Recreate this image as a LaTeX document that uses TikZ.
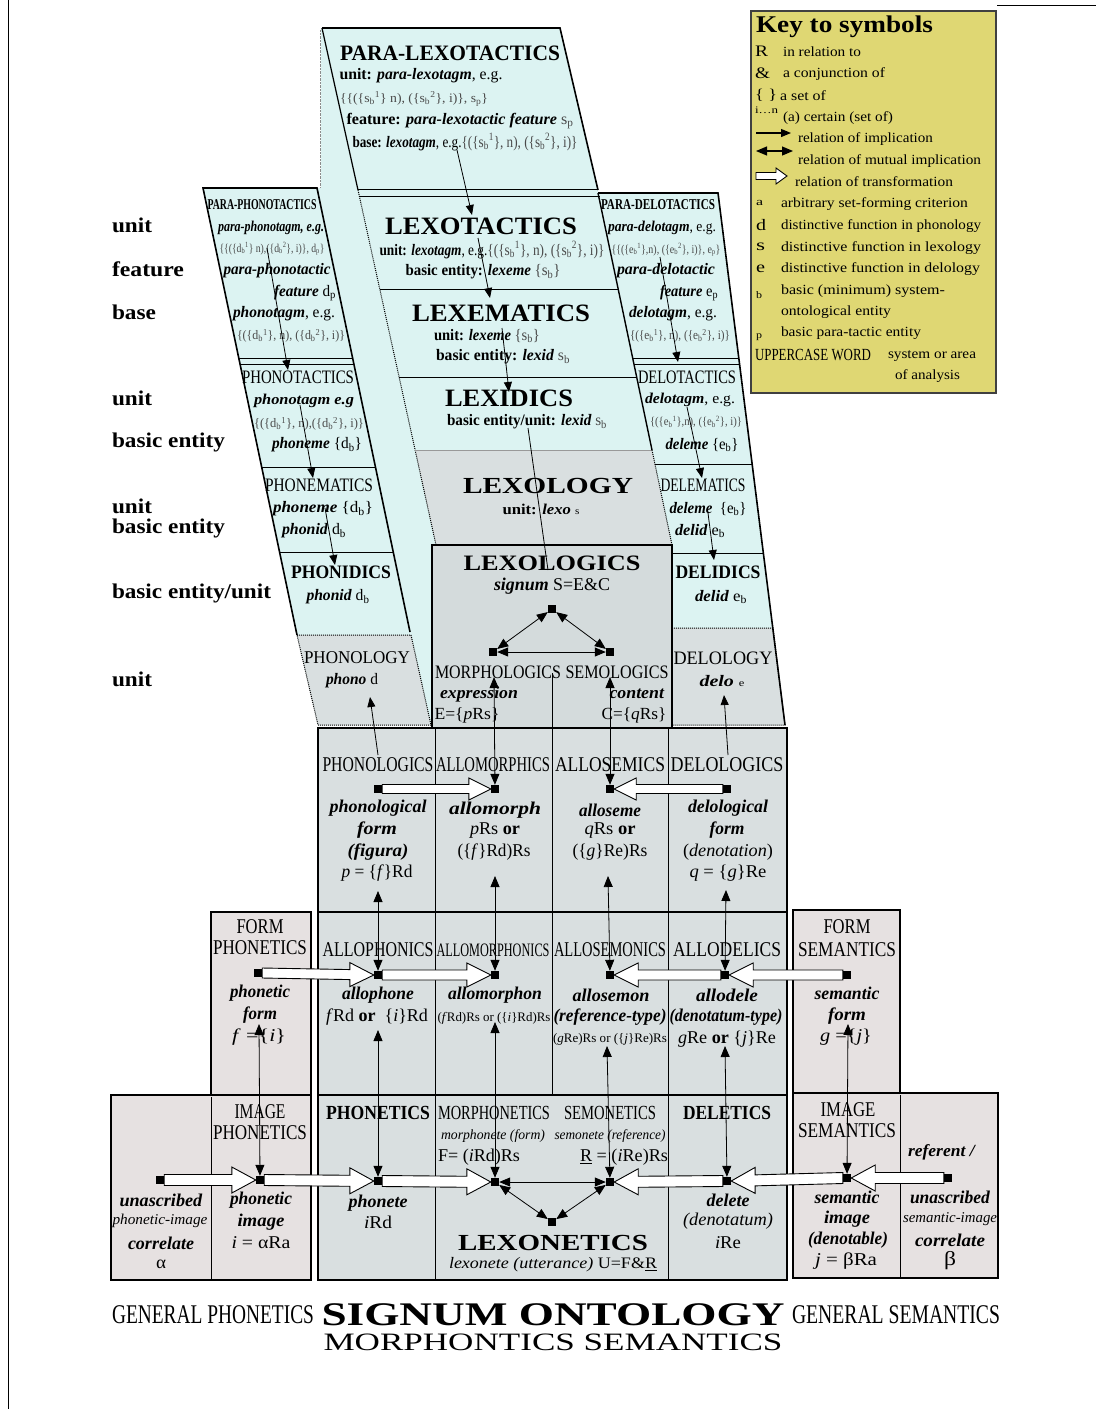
\documentclass[tikz,border=0pt]{standalone}
\usepackage{fontspec}
\setmainfont{Liberation Serif}
\usepackage{graphicx}
\usetikzlibrary{arrows.meta,calc}
\definecolor{lb}{HTML}{DCF3F2}
\definecolor{gr}{HTML}{D9DFE0}
\definecolor{gr2}{HTML}{D4DBDC}
\definecolor{pk}{HTML}{E6E1E1}
\definecolor{ky}{HTML}{DFD773}
\definecolor{setc}{HTML}{4A4A4A}
\newdimen\fitlen
\newcommand\fitx[2]{\settowidth\fitlen{#2}\scalebox{\fpeval{#1/\fitlen}}[1]{#2}}
\newcommand\Tx[6]{\node[t] (#1) at (#2,#3) {\fontsize{#4}{#4}\selectfont\fitx{#5}{#6}};}
\newcommand\TxL[6]{\node[t,anchor=west] (#1) at (#2,#3) {\fontsize{#4}{#4}\selectfont\fitx{#5}{#6}};}
\newcommand\bi[1]{\textbf{\textit{#1}}}
\newcommand\gs[1]{{\color{setc}#1}}
\newcommand\sbx[2]{#1\textsubscript{#2}}
\newcommand\ssx[3]{#1\textsubscript{#2}\textsuperscript{#3}}
\newcommand\blk[5]{\draw[blockarr] ($(#1)+(0,#3)$) -- ($(#2)!#5pt!(#1)+(0,#3)$) -- ($(#2)!#5pt!(#1)+(0,#4)$) -- (#2) -- ($(#2)!#5pt!(#1)+(0,-#4)$) -- ($(#2)!#5pt!(#1)+(0,-#3)$) -- ($(#1)+(0,-#3)$) -- cycle;}
\tikzset{
 t/.style={inner sep=0pt, outer sep=0pt},
 sq/.style={fill=black, inner sep=0pt, minimum size=8pt},
 imp/.style={-{Triangle[length=10pt,width=8pt]}, line width=0.8pt},
 mut/.style={{Triangle[length=11pt,width=9pt]}-{Triangle[length=11pt,width=9pt]}, line width=0.8pt},
 blockarr/.style={draw=black, fill=white, line width=0.9pt, line join=miter},
}
\begin{document}
\begin{tikzpicture}[x=1pt,y=-1pt]
\useasboundingbox (0,0) rectangle (1096,1409);
% page lines
\draw[line width=1] (8,0) -- (8,1409);
\draw[line width=1] (997,5) -- (1096,5);
% ---------- upper sheet ----------
\fill[lb] (203,188) -- (321,188) -- (321,28) -- (560,28) -- (598,190) -- (598,193) -- (718,193) -- (785,725) -- (318,725) -- (297,635) -- cycle;
\draw[densely dotted, black!45] (320,30) -- (320,188);
% gray regions
\fill[gr] (415,450) -- (652,450) -- (672,545) -- (436,545) -- cycle;
\filldraw[fill=gr, densely dotted, line width=1] (297,635) -- (411,635) -- (431,725) -- (318,725) -- cycle;
\filldraw[fill=gr, densely dotted, line width=1] (672,628) -- (773,628) -- (785,725) -- (672,725) -- cycle;
% lexo column
\draw[line width=1.6] (322,28) -- (560,28) -- (598,190);
\draw[line width=1.2] (322,28) -- (358,190);
\draw[densely dotted, line width=1] (358,190) -- (436,545);
\draw[line width=0.9] (358,189) -- (598,189);
\draw[line width=0.9] (360,196) -- (600,196);
\draw[line width=0.9] (380,289) -- (619,289);
\draw[line width=0.9] (399,377) -- (637,377);
\draw[line width=0.5, black!40] (415,450) -- (652,450);
% delo column
\draw[line width=1.6] (598,193) -- (718,193) -- (785,725);
\draw[line width=1.4] (598,193) -- (652,450);
\draw[densely dotted, line width=1] (652,450) -- (672,545);
\draw[line width=0.9] (632,358) -- (738,358);
\draw[line width=0.9] (634,364) -- (739,364);
\draw[line width=0.9] (655,464) -- (752,464);
\draw[line width=0.9] (672,553) -- (763,553);
% phono column
\draw[line width=1.6] (297,635) -- (203,188) -- (317,188) -- (410,632);
\draw[line width=0.9] (238,358) -- (352,358);
\draw[line width=0.9] (240,364) -- (354,364);
\draw[line width=0.9] (261,467) -- (375,467);
\draw[line width=0.9] (279,552) -- (393,552);
% ---------- lower blocks ----------
\filldraw[fill=gr, line width=2.5] (318,728) rectangle (787,1280);
\filldraw[fill=gr2, line width=2] (432,545) rectangle (672,728);
\draw[line width=1.5] (318,912) -- (787,912);
\draw[line width=1.5] (318,1095) -- (787,1095);
\draw[line width=1] (435,728) -- (435,1280);
\draw[line width=1] (552,673) -- (552,1095);
\draw[line width=1] (668,728) -- (668,1280);
\filldraw[fill=pk, line width=2.5] (211,912) rectangle (311,1095);
\filldraw[fill=pk, line width=2.5] (111,1095) rectangle (311,1280);
\draw[line width=1] (211,1097) -- (211,1280);
\filldraw[fill=pk, line width=2.5] (793,910) rectangle (900,1093);
\filldraw[fill=pk, line width=2.5] (793,1093) rectangle (998,1278);
\draw[line width=1] (900,1095) -- (900,1278);
% ---------- key ----------
\filldraw[fill=ky, draw=black!75, line width=2] (751,11) rectangle (996,393);
\TxL{k0}{756}{27}{24}{177}{\textbf{Key to symbols}}
\TxL{k1}{755}{51}{16}{13}{R}
\TxL{k2}{783}{52}{14}{78}{in relation to}
\TxL{k3}{755}{73}{16}{15}{\&}
\TxL{k4}{783}{74}{14}{102}{a conjunction of}
\TxL{k5}{755}{95}{15}{22}{\{ \}}
\TxL{k6}{780}{96}{14}{46}{a set of}
\TxL{k7}{755}{110}{10}{23}{i…n}
\TxL{k8}{783}{118}{14}{110}{(a) certain (set of)}
\TxL{k9}{798}{139}{14}{135}{relation of implication}
\TxL{k10}{798}{161}{14}{183}{relation of mutual implication}
\TxL{k11}{795}{182}{14}{158}{relation of transformation}
\TxL{k12}{756}{203}{11}{7}{a}
\TxL{k13}{781}{204}{14}{187}{arbitrary set-forming criterion}
\TxL{k14}{756}{225}{16}{10}{d}
\TxL{k15}{781}{226}{14}{200}{distinctive function in phonology}
\TxL{k16}{756}{247}{16}{9}{s}
\TxL{k17}{781}{248}{14}{200}{distinctive function in lexology}
\TxL{k18}{756}{269}{16}{9}{e}
\TxL{k19}{781}{269}{14}{199}{distinctive function in delology}
\TxL{k20}{756}{295}{10}{6}{b}
\TxL{k21}{781}{291}{14}{164}{basic (minimum) system-}
\TxL{k22}{781}{312}{14}{110}{ontological entity}
\TxL{k23}{756}{337}{10}{6}{p}
\TxL{k24}{781}{333}{14}{140}{basic para-tactic entity}
\TxL{k25}{755}{355}{17}{116}{UPPERCASE WORD}
\TxL{k26}{888}{356}{14}{88}{system or area}
\TxL{k27}{895}{376}{14}{65}{of analysis}
\coordinate (ka1) at (756,133); \coordinate (ka2) at (791,133);
\draw[imp, line width=1.2pt] (ka1) -- (ka2);
\coordinate (kb1) at (756,151); \coordinate (kb2) at (793,151);
\draw[mut, line width=1.2pt] (kb1) -- (kb2);
\coordinate (kc1) at (756,176); \coordinate (kc2) at (787,176);
\blk{kc1}{kc2}{3.5}{8}{11}
% ---------- left labels ----------
\TxL{L1}{112}{225}{21}{40}{\textbf{unit}}
\TxL{L2}{112}{269}{21}{72}{\textbf{feature}}
\TxL{L3}{112}{312}{21}{44}{\textbf{base}}
\TxL{L4}{112}{398}{21}{40}{\textbf{unit}}
\TxL{L5}{112}{442}{21}{113}{\textbf{basic entity}}
\TxL{L6}{112}{506}{21}{40}{\textbf{unit}}
\TxL{L7}{112}{528}{21}{113}{\textbf{basic entity}}
\TxL{L8}{112}{593}{21}{159}{\textbf{basic entity/unit}}
\TxL{L9}{112}{679}{21}{40}{\textbf{unit}}
% ---------- para-lexotactics / lexo ----------
\Tx{pl0}{450}{53}{22}{220}{\textbf{PARA-LEXOTACTICS}}
\Tx{pl1}{421}{76}{16}{163}{\textbf{unit:} \bi{para-lexotagm}, e.g.}
\Tx{pl2}{414}{99}{13}{148}{\gs{\{\{(\{\ssx{s}{b}{1}\} n), (\{\ssx{s}{b}{2}\}, i)\}, \sbx{s}{p}\}}}
\Tx{pl3}{460}{121}{16}{227}{\textbf{feature:} \bi{para-lexotactic feature} \gs{\sbx{s}{p}}}
\Tx{pl4}{465}{142}{16}{225}{\textbf{base:} \bi{lexotagm}, e.g.\gs{\{(\{\ssx{s}{b}{1}\}, n), (\{\ssx{s}{b}{2}\}, i)\}}}
\Tx{lx0}{481}{226}{25}{192}{\textbf{LEXOTACTICS}}
\Tx{lx1}{492}{250}{16}{225}{\textbf{unit:} \bi{lexotagm}, e.g.\gs{\{(\{\ssx{s}{b}{1}\}, n), (\{\ssx{s}{b}{2}\}, i)\}}}
\Tx{lx2}{483}{272}{16}{155}{\textbf{basic entity:} \bi{lexeme} \gs{\{\sbx{s}{b}\}}}
\Tx{lx3}{501}{313}{25}{178}{\textbf{LEXEMATICS}}
\Tx{lx4}{487}{336}{16}{106}{\textbf{unit:} \bi{lexeme} \gs{\{\sbx{s}{b}\}}}
\Tx{lx5}{503}{357}{16}{134}{\textbf{basic entity:} \bi{lexid} \gs{\sbx{s}{b}}}
\Tx{lx6}{509}{398}{25}{128}{\textbf{LEXIDICS}}
\Tx{lx7}{527}{422}{16}{160}{\textbf{basic entity/unit:} \bi{lexid} \gs{\sbx{s}{b}}}
\Tx{lx8}{548}{486}{23}{170}{\textbf{LEXOLOGY}}
\Tx{lx9}{541}{509}{15}{77}{\textbf{unit:} \bi{lexo} {\fontsize{10}{10}\selectfont s}}
\Tx{lg0}{552}{563}{22}{177}{\textbf{LEXOLOGICS}}
\Tx{lg1}{552}{586}{18}{116}{\bi{signum} S=E\&C}
\Tx{lg2}{498}{672}{19}{126}{MORPHOLOGICS}
\Tx{lg3}{617}{672}{19}{103}{SEMOLOGICS}
\Tx{lg4}{479}{694}{17}{78}{\bi{expression}}
\Tx{lg5}{637}{694}{17}{55}{\bi{content}}
\Tx{lg6}{467}{715}{17}{65}{E=\{\textit{p}Rs\}}
\Tx{lg7}{634}{715}{17}{65}{C=\{\textit{q}Rs\}}
% ---------- phono ----------
\Tx{pp0}{262}{205}{15}{109}{\textbf{PARA-PHONOTACTICS}}
\Tx{pp1}{271}{228}{15}{106}{\bi{para-phonotagm, e.g.}}
\Tx{pp2}{272}{249}{12}{105}{\gs{\{\{(\{\ssx{d}{b}{1}\} n),(\{\ssx{d}{b}{2}\}, i)\}, \sbx{d}{p}\}}}
\Tx{pp3}{277}{271}{16}{107}{\bi{para-phonotactic}}
\Tx{pp4}{305}{293}{16}{62}{\bi{feature} \sbx{d}{p}}
\Tx{pp5}{284}{314}{16}{102}{\bi{phonotagm}, e.g.}
\Tx{pp6}{291}{336}{13}{108}{\gs{\{(\{\ssx{d}{b}{1}\}, n), (\{\ssx{d}{b}{2}\}, i)\}}}
\Tx{ph0}{298}{377}{19}{112}{PHONOTACTICS}
\Tx{ph1}{304}{401}{15}{100}{\bi{phonotagm e.g}}
\Tx{ph2}{309}{424}{13}{110}{\gs{\{(\{\ssx{d}{b}{1}\}, n),(\{\ssx{d}{b}{2}\}, i)\}}}
\Tx{ph3}{317}{445}{16}{90}{\bi{phoneme} \{\sbx{d}{b}\}}
\Tx{ph4}{319}{485}{19}{108}{PHONEMATICS}
\Tx{ph5}{323}{509}{16}{100}{\bi{phoneme} \{\sbx{d}{b}\}}
\Tx{ph6}{314}{531}{16}{64}{\bi{phonid} \sbx{d}{b}}
\Tx{ph7}{341}{572}{19}{100}{\textbf{PHONIDICS}}
\Tx{ph8}{338}{597}{16}{63}{\bi{phonid} \sbx{d}{b}}
\Tx{ph9}{357}{658}{18}{106}{PHONOLOGY}
\Tx{ph10}{352}{681}{16}{52}{\bi{phono} d}
% ---------- delo ----------
\Tx{pd0}{658}{205}{15}{114}{\textbf{PARA-DELOTACTICS}}
\Tx{pd1}{662}{228}{15}{108}{\bi{para-delotagm}, e.g.}
\Tx{pd2}{666}{250}{12}{109}{\gs{\{\{(\{\ssx{e}{b}{1}\},n), (\{\ssx{e}{b}{2}\}, i)\}, \sbx{e}{p}\}}}
\Tx{pd3}{666}{271}{16}{98}{\bi{para-delotactic}}
\Tx{pd4}{689}{293}{16}{58}{\bi{feature} \sbx{e}{p}}
\Tx{pd5}{673}{314}{16}{88}{\bi{delotagm}, e.g.}
\Tx{pd6}{680}{336}{13}{100}{\gs{\{(\{\ssx{e}{b}{1}\}, n), (\{\ssx{e}{b}{2}\}, i)\}}}
\Tx{dl0}{687}{377}{19}{98}{DELOTACTICS}
\Tx{dl1}{690}{400}{15}{90}{\bi{delotagm}, e.g.}
\Tx{dl2}{696}{422}{12}{92}{\gs{\{(\{\ssx{e}{b}{1}\},n), (\{\ssx{e}{b}{2}\}, i)\}}}
\Tx{dl3}{702}{445}{16}{73}{\bi{deleme} \{\sbx{e}{b}\}}
\Tx{dl4}{703}{485}{19}{85}{DELEMATICS}
\Tx{dl5}{708}{509}{16}{77}{\bi{deleme}\ \ \{\sbx{e}{b}\}}
\Tx{dl6}{700}{531}{16}{50}{\bi{delid} \sbx{e}{b}}
\Tx{dl7}{718}{572}{19}{85}{\textbf{DELIDICS}}
\Tx{dl8}{721}{597}{16}{52}{\bi{delid} \sbx{e}{b}}
\Tx{dl9}{723}{658}{19}{99}{DELOLOGY}
\Tx{dl10}{722}{681}{16}{45}{\bi{delo} {\fontsize{10}{10}\selectfont e}}
% ---------- row 1 ----------
\Tx{r1a}{378}{765}{21}{111}{PHONOLOGICS}
\Tx{r1b}{493}{765}{21}{114}{ALLOMORPHICS}
\Tx{r1c}{610}{765}{21}{110}{ALLOSEMICS}
\Tx{r1d}{727}{765}{21}{113}{DELOLOGICS}
\Tx{r1e}{378}{808}{18}{97}{\bi{phonological}}
\Tx{r1f}{377}{830}{18}{40}{\bi{form}}
\Tx{r1g}{378}{852}{18}{61}{\bi{(figura)}}
\Tx{r1h}{377}{873}{18}{71}{\textit{p} = \{\textit{f}\}Rd}
\Tx{r1i}{495}{810}{18}{92}{\bi{allomorph}}
\Tx{r1j}{495}{831}{18}{50}{\textit{p}Rs \textbf{or}}
\Tx{r1k}{494}{852}{18}{73}{(\{\textit{f}\}Rd)Rs}
\Tx{r1l}{610}{810}{18}{62}{\bi{alloseme}}
\Tx{r1m}{610}{831}{18}{51}{\textit{q}Rs \textbf{or}}
\Tx{r1n}{610}{852}{18}{75}{(\{\textit{g}\}Re)Rs}
\Tx{r1o}{728}{808}{18}{80}{\bi{delological}}
\Tx{r1p}{727}{830}{18}{35}{\bi{form}}
\Tx{r1q}{728}{852}{18}{90}{(\textit{denotation})}
\Tx{r1r}{728}{873}{18}{77}{\textit{q} = \{\textit{g}\}Re}
% ---------- row 2 ----------
\Tx{r2a}{260}{927}{21}{47}{FORM}
\Tx{r2b}{260}{948}{21}{94}{PHONETICS}
\Tx{r2c}{378}{950}{21}{111}{ALLOPHONICS}
\Tx{r2d}{493}{950}{19}{113}{ALLOMORPHONICS}
\Tx{r2e}{610}{950}{21}{112}{ALLOSEMONICS}
\Tx{r2f}{727}{950}{21}{108}{ALLODELICS}
\Tx{r2g}{847}{927}{21}{47}{FORM}
\Tx{r2h}{847}{950}{21}{98}{SEMANTICS}
\Tx{r2i}{260}{993}{18}{60}{\bi{phonetic}}
\Tx{r2j}{260}{1015}{18}{34}{\bi{form}}
\Tx{r2k}{259}{1037}{18}{54}{\textit{f} =\{\textit{i}\}}
\Tx{r2l}{378}{995}{18}{72}{\bi{allophone}}
\Tx{r2m}{377}{1017}{18}{102}{\textit{f}Rd \textbf{or}\ \ \{\textit{i}\}Rd}
\Tx{r2n}{495}{995}{18}{94}{\bi{allomorphon}}
\Tx{r2o}{494}{1018}{13}{113}{(\textit{f}Rd)Rs or (\{\textit{i}\}Rd)Rs}
\Tx{r2p}{611}{995}{18}{77}{\bi{allosemon}}
\Tx{r2q}{610}{1017}{18}{113}{\bi{(reference-type)}}
\Tx{r2r}{610}{1039}{13}{114}{(\textit{g}Re)Rs or (\{\textit{j}\}Re)Rs}
\Tx{r2s}{727}{995}{18}{62}{\bi{allodele}}
\Tx{r2t}{726}{1017}{18}{113}{\bi{(denotatum-type)}}
\Tx{r2u}{727}{1039}{18}{98}{\textit{g}Re \textbf{or} \{\textit{j}\}Re}
\Tx{r2v}{847}{993}{18}{65}{\bi{semantic}}
\Tx{r2w}{847}{1016}{18}{38}{\bi{form}}
\Tx{r2x}{846}{1037}{18}{52}{\textit{g} =\{\textit{j}\}}
% ---------- row 3 ----------
\Tx{r3a}{260}{1112}{21}{51}{IMAGE}
\Tx{r3b}{260}{1133}{21}{94}{PHONETICS}
\Tx{r3c}{378}{1113}{20}{104}{\textbf{PHONETICS}}
\Tx{r3d}{494}{1113}{20}{112}{MORPHONETICS}
\Tx{r3e}{610}{1113}{20}{92}{SEMONETICS}
\Tx{r3f}{727}{1113}{20}{88}{\textbf{DELETICS}}
\Tx{r3g}{493}{1136}{14}{104}{\textit{morphonete (form)}}
\Tx{r3h}{610}{1136}{14}{111}{\textit{semonete (reference)}}
\Tx{r3i}{479}{1157}{18}{82}{F= (\textit{i}Rd)Rs}
\Tx{r3j}{624}{1157}{18}{88}{\underline{R} = (\textit{i}Re)Rs}
\Tx{r3k}{161}{1200}{18}{83}{\bi{unascribed}}
\Tx{r3l}{160}{1221}{15}{95}{\textit{phonetic-image}}
\Tx{r3m}{161}{1243}{18}{66}{\bi{correlate}}
\Tx{r3n}{161}{1264}{18}{10}{α}
\Tx{r3o}{261}{1200}{18}{62}{\bi{phonetic}}
\Tx{r3p}{261}{1222}{18}{47}{\bi{image}}
\Tx{r3q}{261}{1243}{18}{59}{\textit{i} = αRa}
\Tx{r3r}{378}{1203}{18}{59}{\bi{phonete}}
\Tx{r3s}{378}{1222}{18}{28}{\textit{i}Rd}
\Tx{r3t}{553}{1243}{23}{190}{\textbf{LEXONETICS}}
\Tx{r3u}{553}{1265}{16}{208}{\textit{lexonete (utterance)} U=F\&\underline{R}}
\Tx{r3v}{728}{1200}{18}{43}{\bi{delete}}
\Tx{r3w}{728}{1221}{18}{90}{\textit{(denotatum)}}
\Tx{r3x}{728}{1243}{18}{26}{\textit{i}Re}
\Tx{r3y}{848}{1110}{21}{55}{IMAGE}
\Tx{r3z}{847}{1131}{21}{98}{SEMANTICS}
\Tx{r3A}{942}{1152}{17}{68}{\bi{referent /}}
\Tx{r3B}{847}{1197}{18}{65}{\bi{semantic}}
\Tx{r3C}{847}{1219}{18}{46}{\bi{image}}
\Tx{r3D}{848}{1240}{18}{80}{\bi{(denotable)}}
\Tx{r3E}{846}{1261}{18}{62}{\textit{j} = βRa}
\Tx{r3F}{950}{1197}{18}{80}{\bi{unascribed}}
\Tx{r3G}{950}{1219}{15}{94}{\textit{semantic-image}}
\Tx{r3H}{950}{1240}{18}{70}{\bi{correlate}}
\Tx{r3I}{950}{1261}{20}{12}{β}
% ---------- bottom titles ----------
\Tx{b1}{213}{1315}{27}{202}{GENERAL PHONETICS}
\Tx{b2}{553}{1315}{33}{463}{\textbf{SIGNUM ONTOLOGY}}
\Tx{b3}{896}{1315}{27}{208}{GENERAL SEMANTICS}
\Tx{b4}{553}{1342}{25}{459}{MORPHONTICS SEMANTICS}
% ---------- upper arrows ----------
\coordinate (A1a) at (267,248); \coordinate (A1b) at (288,370);
\coordinate (A2a) at (300,405); \coordinate (A2b) at (313,478);
\coordinate (A3a) at (325,508); \coordinate (A3b) at (335,565);
\coordinate (B1a) at (457,150); \coordinate (B1b) at (472,215);
\coordinate (B2a) at (478,238); \coordinate (B2b) at (490,298);
\coordinate (B3a) at (502,328); \coordinate (B3b) at (509,392);
\coordinate (B4a) at (528,428); \coordinate (B4b) at (548,570);
\coordinate (C1a) at (660,257); \coordinate (C1b) at (678,362);
\coordinate (C2a) at (687,407); \coordinate (C2b) at (702,478);
\coordinate (C3a) at (708,513); \coordinate (C3b) at (714,560);
\foreach \p in {A1,A2,A3,B1,B2,B3,C1,C2,C3} {\draw[imp] (\p a) -- (\p b);}
\draw[line width=0.8] (B4a) -- (B4b);
% ---------- square nodes ----------
\node[sq] (T) at (552,609) {};
\node[sq] (Lq) at (493,652) {};
\node[sq] (Rq) at (610,652) {};
\node[sq] (a1) at (378,789) {};
\node[sq] (a2) at (495,789) {};
\node[sq] (a3) at (610,789) {};
\node[sq] (a4) at (727,789) {};
\node[sq] (b0) at (258,973) {};
\node[sq] (b1) at (378,975) {};
\node[sq] (b2) at (495,975) {};
\node[sq] (b3) at (610,975) {};
\node[sq] (b4) at (725,975) {};
\node[sq] (b5) at (847,975) {};
\node[sq] (c0) at (160,1180) {};
\node[sq] (c1) at (260,1180) {};
\node[sq] (c2) at (378,1181) {};
\node[sq] (c3) at (495,1182) {};
\node[sq] (c4) at (610,1182) {};
\node[sq] (c5) at (727,1181) {};
\node[sq] (c6) at (847,1178) {};
\node[sq] (c7) at (948,1178) {};
\node[sq] (lxn) at (552,1222) {};
% triangle in LEXOLOGICS
\draw[mut] (Lq) -- (T);
\draw[mut] (Rq) -- (T);
\draw[mut] (Lq) -- (Rq);
% triangle in LEXONETICS
\draw[mut] (c3) -- (c4);
\draw[mut] (c3) -- (lxn);
\draw[mut] (c4) -- (lxn);
% vertical links
\coordinate (vm) at (494,677); \draw[mut] (vm) -- (a2);
\coordinate (vs) at (610,677); \draw[mut] (vs) -- (a3);
\coordinate (pha) at (378,755); \coordinate (phb) at (370,697); \draw[imp] (pha) -- (phb);
\coordinate (dea) at (728,755); \coordinate (deb) at (724,695); \draw[imp] (dea) -- (deb);
\coordinate (v1) at (378,891); \draw[mut] (v1) -- (b1);
\coordinate (v2) at (495,876); \draw[mut] (v2) -- (b2);
\coordinate (v3) at (608,876); \draw[mut] (v3) -- (b3);
\coordinate (v4) at (726,890); \draw[mut] (v4) -- (b4);
\coordinate (w0) at (259,1024); \draw[mut] (w0) -- (c1);
\coordinate (w1) at (378,1030); \draw[mut] (w1) -- (c2);
\coordinate (w2) at (495,1022); \draw[mut] (w2) -- (c3);
\coordinate (w3) at (607,1046); \draw[mut] (w3) -- (c4);
\coordinate (w4) at (725,1046); \draw[mut] (w4) -- (c5);
\coordinate (w5) at (848,1024); \draw[mut] (w5) -- (c6);
% ---------- block arrows ----------
\blk{a1.east}{a2.west}{4.5}{11}{22}
\blk{a4.west}{a3.east}{4.5}{11}{22}
\blk{b0.east}{b1.west}{5}{12}{24}
\blk{b1.east}{b2.west}{5}{12}{24}
\blk{b4.west}{b3.east}{5}{12}{24}
\blk{b5.west}{b4.east}{5}{12}{24}
\blk{c0.east}{c1.west}{5.5}{13}{24}
\blk{c1.east}{c2.west}{5.5}{13}{24}
\blk{c2.east}{c3.west}{5.5}{13}{24}
\blk{c5.west}{c4.east}{5.5}{13}{24}
\blk{c6.west}{c5.east}{5.5}{13}{24}
\blk{c7.west}{c6.east}{5.5}{13}{24}
\end{tikzpicture}
\end{document}
